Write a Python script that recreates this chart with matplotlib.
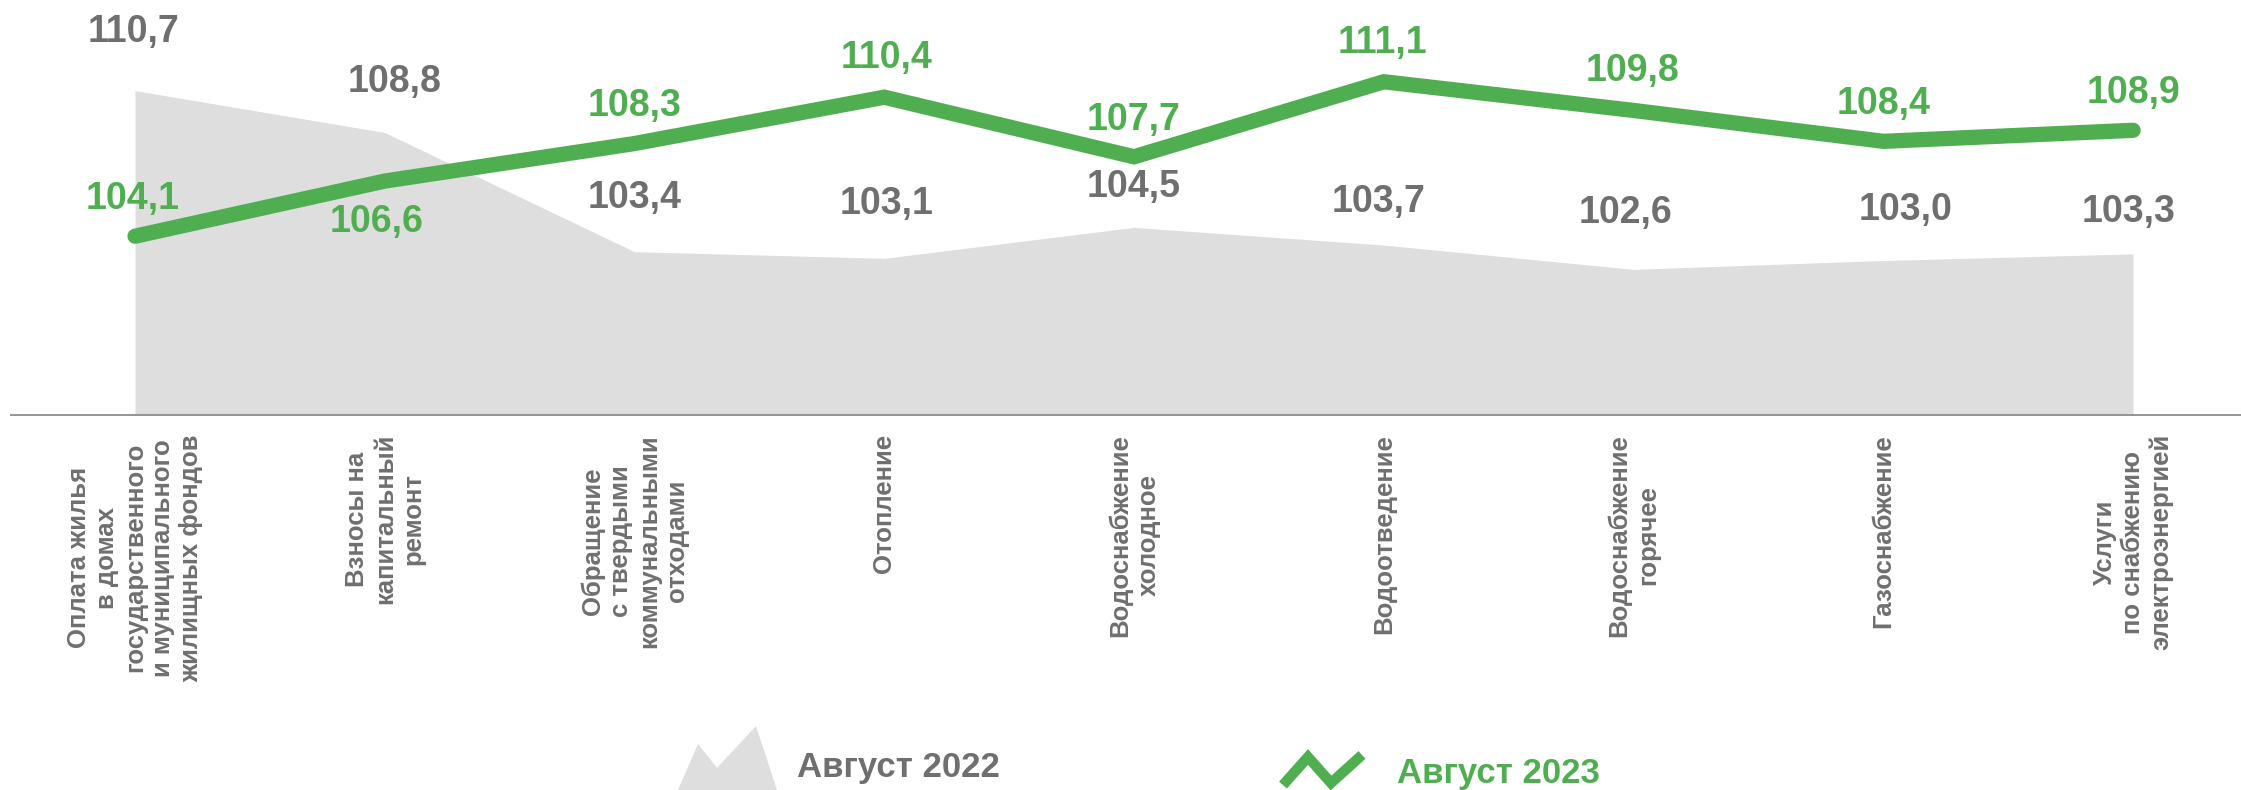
import matplotlib
matplotlib.use("Agg")
import matplotlib.pyplot as plt
from matplotlib.patches import Polygon
from matplotlib.lines import Line2D

plt.rcParams['font.family'] = ['Liberation Sans', 'DejaVu Sans']

categories = [
    "Оплата жилья\nв домах\nгосударственного\nи муниципального\nжилищных фондов",
    "Взносы на\nкапитальный\nремонт",
    "Обращение\nс твердыми\nкоммунальными\nотходами",
    "Отопление",
    "Водоснабжение\nхолодное",
    "Водоотведение",
    "Водоснабжение\nгорячее",
    "Газоснабжение",
    "Услуги\nпо снабжению\nэлектроэнергией",
]
aug_2022 = [110.7, 108.8, 103.4, 103.1, 104.5, 103.7, 102.6, 103.0, 103.3]
aug_2023 = [104.1, 106.6, 108.3, 110.4, 107.7, 111.1, 109.8, 108.4, 108.9]
legend_labels = ["Август 2022", "Август 2023"]

GREY = '#DEDEDE'
GREY_TXT = '#6F6F6F'
GREEN = '#4FAE50'

# label offsets in pixels (dx, dy)
off_2022 = [(-2, 59), (10, 51), (0, 54), (2, 54), (0, 40), (-5, 43), (-8, 56), (22, 51), (-5, 42)]
off_2023 = [(-2, 37), (-8, -41), (0, 38), (2, 39), (0, 37), (-1, 39), (-1, 39), (0, 37), (0, 37)]

W, H = 2241, 790
fig = plt.figure(figsize=(W / 100, H / 100), dpi=100)

left = 11 / W
ax = fig.add_axes([left, 1 - 415 / H, 1 - left, 415 / H])
x = list(range(len(categories)))

ax.fill_between(x, 96, aug_2022, color=GREY, lw=0, zorder=1)
ax.plot(x, aug_2023, color=GREEN, lw=11, solid_capstyle='round',
        solid_joinstyle='miter', zorder=3)

ax.set_xlim(-0.4965, 8.432)
ax.set_ylim(96, 96 + 415 / 22.07)

for sp in ['top', 'left', 'right']:
    ax.spines[sp].set_visible(False)
ax.spines['bottom'].set_color('#8C8C8C')
ax.spines['bottom'].set_linewidth(1.3)
ax.set_xticks([])
ax.set_yticks([])
ax.patch.set_alpha(0)

for i in x:
    ax.annotate(f"{aug_2022[i]:.1f}".replace('.', ','), (i, aug_2022[i]),
                xytext=off_2022[i], textcoords='offset pixels',
                ha='center', va='center', fontsize=27, fontweight='bold',
                color=GREY_TXT, zorder=4)
    ax.annotate(f"{aug_2023[i]:.1f}".replace('.', ','), (i, aug_2023[i]),
                xytext=off_2023[i], textcoords='offset pixels',
                ha='center', va='center', fontsize=27, fontweight='bold',
                color=GREEN, zorder=4)
    ax.annotate(categories[i], (i, 96), xytext=(0, -19), textcoords='offset pixels',
                rotation=90, ha='center', va='top', multialignment='center',
                fontsize=18.5, fontweight='bold', color=GREY_TXT,
                linespacing=1.22, annotation_clip=False)

# legend drawn in pixel space
lax = fig.add_axes([0, 0, 1, 1], zorder=-1)
lax.set_xlim(0, W)
lax.set_ylim(H, 0)
lax.axis('off')
lax.add_patch(Polygon([(678, 790), (698, 744), (717, 768), (756, 726), (777, 790)],
                      closed=True, color=GREY, lw=0))
lax.add_line(Line2D([1283, 1308, 1331, 1362], [785, 757, 783, 755], color=GREEN,
                    lw=7.5, solid_joinstyle='miter', solid_capstyle='butt'))
lax.text(797, 767, legend_labels[0], ha='left', va='center', fontsize=25,
         fontweight='bold', color=GREY_TXT)
lax.text(1397, 773, legend_labels[1], ha='left', va='center', fontsize=25,
         fontweight='bold', color=GREEN)

fig.savefig('out.png', dpi=100)
